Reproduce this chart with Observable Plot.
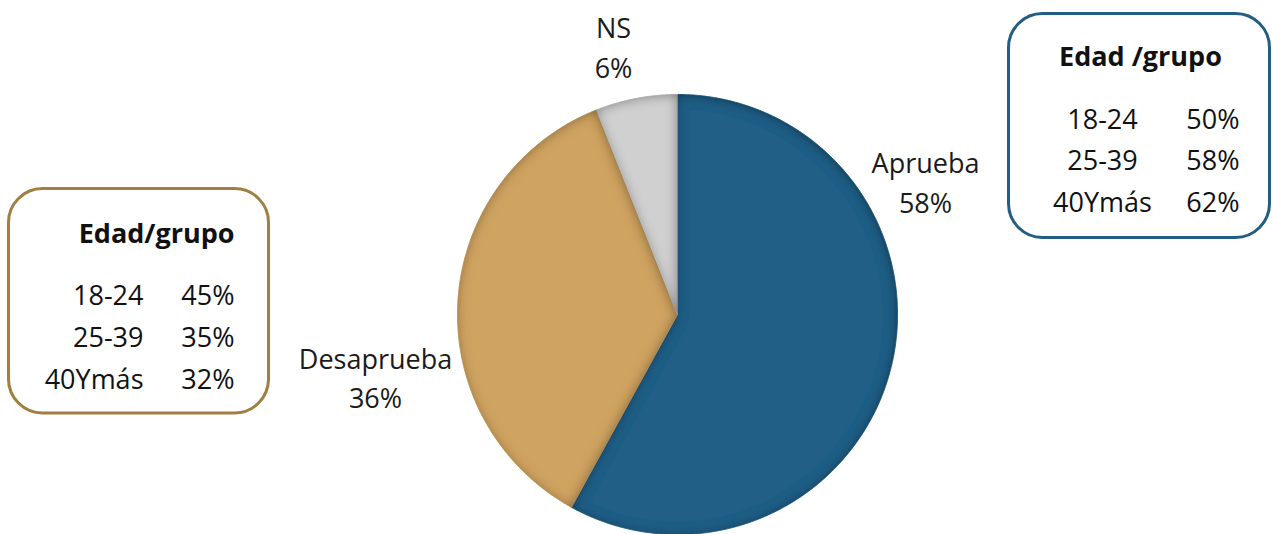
<!DOCTYPE html>
<html>
<head>
<meta charset="utf-8">
<script src="https://cdn.jsdelivr.net/npm/d3@7"></script>
<script src="https://cdn.jsdelivr.net/npm/@observablehq/plot@0.6"></script>
<style>
  html, body { margin: 0; padding: 0; background: #fff; }
  #chart { width: 1273px; height: 534px; }
</style>
</head>
<body>
<div id="chart"></div>
<script>
// ---- data ----
const categories = ["Aprueba", "Desaprueba", "NS"];
const values = [58, 36, 6];
const colors = ["#215F86", "#CFA360", "#D0D0D0"];
const ageGroups = ["18-24", "25-39", "40Ymás"];
const apruebaByAge = [50, 58, 62];
const desapruebaByAge = [45, 35, 32];
const rightBoxTitle = "Edad /grupo";
const leftBoxTitle = "Edad/grupo";

// ---- layout ----
const W = 1273, H = 534;
const FS = 27;
const pie = {cx: 677, cy: 314, r: 220};
const labelLayout = {
  "Aprueba":    {x: 925, b1: 172, b2: 212},
  "Desaprueba": {x: 375, b1: 368, b2: 407},
  "NS":         {x: 613, b1: 37,  b2: 77}
};
const rightBox = {x1: 1008.5, x2: 1269.5, y1: 13.5, y2: 237.5, titleX: 1140, titleB: 65,
                  col1X: 1102, col1Anchor: "middle", col2X: 1239, rowsB: [128, 169, 211]};
const leftBox = {x1: 8.5, x2: 268.5, y1: 188.5, y2: 413, titleX: 234, titleB: 242,
                 col1X: 143, col1Anchor: "end", col2X: 234, rowsB: [304, 346, 388]};
const mid = b => b - 0.32 * FS; // baseline -> middle anchor

// ---- slices from data ----
const arcs = d3.pie().sort(null).value(d => d.value)(categories.map((c, i) => ({name: c, value: values[i]})));
const slicePts = [];
for (const a of arcs) {
  const name = a.data.name;
  slicePts.push({slice: name, x: pie.cx, y: pie.cy});
  const n = Math.max(8, Math.ceil((a.endAngle - a.startAngle) / 0.005));
  for (let k = 0; k <= n; k++) {
    const t = a.startAngle + (a.endAngle - a.startAngle) * k / n;
    slicePts.push({slice: name, x: pie.cx + pie.r * Math.sin(t), y: pie.cy - pie.r * Math.cos(t)});
  }
}

// ---- text rows ----
const pieLabels = [];
categories.forEach((c, i) => {
  const L = labelLayout[c];
  pieLabels.push({x: L.x, y: mid(L.b1), text: c});
  pieLabels.push({x: L.x, y: mid(L.b2), text: values[i] + "%"});
});
function boxRows(box, vals) {
  const col1 = [], col2 = [];
  ageGroups.forEach((g, i) => {
    col1.push({x: box.col1X, y: mid(box.rowsB[i]), text: g});
    col2.push({x: box.col2X, y: mid(box.rowsB[i]), text: vals[i] + "%"});
  });
  return {col1, col2};
}
const rRows = boxRows(rightBox, apruebaByAge);
const lRows = boxRows(leftBox, desapruebaByAge);

const font = "'Open Sans', 'Noto Sans', sans-serif";

const chart = Plot.plot({
  width: W, height: H,
  margin: 0,
  x: {domain: [0, W], range: [0, W], axis: null},
  y: {domain: [0, H], range: [0, H], axis: null},
  color: {domain: categories, range: colors},
  style: {fontFamily: font, background: "white", overflow: "visible"},
  marks: [
    Plot.line(slicePts, {x: "x", y: "y", z: "slice", fill: "slice", stroke: "slice", strokeWidth: 0.8, curve: "linear"}),
    Plot.text(pieLabels, {x: "x", y: "y", text: "text", fontSize: FS, fill: "#1a1a1a", textAnchor: "middle"}),
    // boxes
    Plot.rect([rightBox], {x1: "x1", x2: "x2", y1: "y1", y2: "y2", rx: 34, fill: "white", stroke: "#245D82", strokeWidth: 3}),
    Plot.rect([leftBox], {x1: "x1", x2: "x2", y1: "y1", y2: "y2", rx: 34, fill: "white", stroke: "#A17E42", strokeWidth: 3}),
    Plot.text([{x: rightBox.titleX, y: mid(rightBox.titleB), text: rightBoxTitle}], {x: "x", y: "y", text: "text", fontSize: FS, fontWeight: "bold", textAnchor: "middle", fill: "#111"}),
    Plot.text([{x: leftBox.titleX, y: mid(leftBox.titleB), text: leftBoxTitle}], {x: "x", y: "y", text: "text", fontSize: FS, fontWeight: "bold", textAnchor: "end", fill: "#111"}),
    Plot.text(rRows.col1, {x: "x", y: "y", text: "text", fontSize: FS, textAnchor: rightBox.col1Anchor, fill: "#111"}),
    Plot.text(rRows.col2, {x: "x", y: "y", text: "text", fontSize: FS, textAnchor: "end", fill: "#111"}),
    Plot.text(lRows.col1, {x: "x", y: "y", text: "text", fontSize: FS, textAnchor: leftBox.col1Anchor, fill: "#111"}),
    Plot.text(lRows.col2, {x: "x", y: "y", text: "text", fontSize: FS, textAnchor: "end", fill: "#111"})
  ]
});

// inner-shadow bevel for slices
const svg = d3.select(chart);
const defs = svg.insert("defs", ":first-child");
const f = defs.append("filter").attr("id", "inner").attr("x", "-20%").attr("y", "-20%").attr("width", "140%").attr("height", "140%");
f.append("feComponentTransfer").attr("in", "SourceAlpha").attr("result", "inv")
  .append("feFuncA").attr("type", "table").attr("tableValues", "1 0");
f.append("feGaussianBlur").attr("in", "inv").attr("stdDeviation", 6).attr("result", "blur");
f.append("feOffset").attr("in", "blur").attr("dx", -1).attr("dy", 1).attr("result", "off");
f.append("feFlood").attr("flood-color", "#000").attr("flood-opacity", 0.7).attr("result", "col");
f.append("feComposite").attr("in", "col").attr("in2", "off").attr("operator", "in").attr("result", "sh");
f.append("feComposite").attr("in", "sh").attr("in2", "SourceAlpha").attr("operator", "in").attr("result", "insh");
const m = f.append("feMerge");
m.append("feMergeNode").attr("in", "SourceGraphic");
m.append("feMergeNode").attr("in", "insh");
svg.selectAll('g[aria-label="line"] path').attr("filter", "url(#inner)");

document.getElementById("chart").appendChild(chart);
</script>
</body>
</html>
